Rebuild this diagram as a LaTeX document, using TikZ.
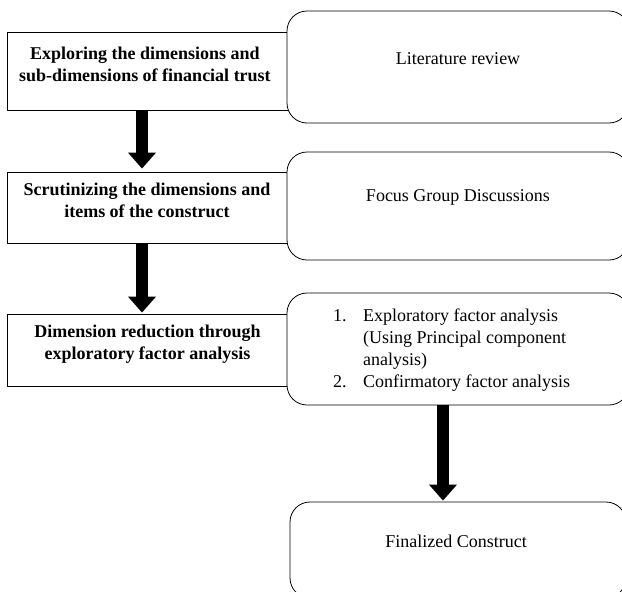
\documentclass[tikz,border=0pt]{standalone}
\usepackage{fontspec}
\setmainfont{Liberation Serif}
\usetikzlibrary{arrows.meta}
\newcommand\figfont{\fontsize{18}{22}\selectfont}
\begin{document}
	\begin{tikzpicture}[x=1pt,y=-1pt,line join=round,
		sqbox/.style={draw,line width=0.8pt,inner sep=0pt,minimum width=282pt},
		rndbox/.style={draw,fill=white,line width=0.8pt,rounded corners=20pt,inner sep=0pt,minimum width=342pt},
		bigarrow/.style={line width=12pt,-{Triangle[width=27pt,length=16pt]}},
		txt/.style={inner sep=0pt,align=center,font=\figfont},
		boldtxt/.style={txt,font=\figfont\bfseries}]
		\useasboundingbox (0,0) rectangle (622,592);
		\clip (0,0) rectangle (622,592);
		\node[sqbox,minimum height=78pt] (l1) at (148,71) {};
		\node[sqbox,minimum height=71pt] (l2) at (148,207.5) {};
		\node[sqbox,minimum height=72pt] (l3) at (148,350) {};
		\node[rndbox,minimum height=112pt] (r1) at (458,67) {};
		\node[rndbox,minimum height=108pt] (r2) at (458,206) {};
		\node[rndbox,minimum height=112pt] (r3) at (458,349) {};
		\node[rndbox,minimum width=336pt,minimum height=96pt] (r4) at (458,550) {};
		\draw[bigarrow] ([xshift=-6pt]l1.south) -- ([xshift=-6pt,yshift=3pt]l2.north);
		\draw[bigarrow] ([xshift=-6pt]l2.south) -- ([xshift=-6pt,yshift=1pt]l3.north);
		\draw[bigarrow] ([xshift=-15pt]r3.south) -- ([xshift=-15pt,yshift=1pt]r4.north);
		\node[boldtxt] (t1) at (145,64) {Exploring the dimensions and\\sub-dimensions of financial trust};
		\node[boldtxt] (t2) at (147,200) {Scrutinizing the dimensions and\\items of the construct};
		\node[boldtxt] (t3) at (147.5,344.5) {Dimension reduction through\\exploratory factor analysis};
		\node[txt] (s1) at (458,59) {Literature review};
		\node[txt] (s2) at (458,197) {Focus Group Discussions};
		\node[txt,anchor=west] (s3) at (333,350) {\begin{tabular}{@{}l@{}l@{}}
			\makebox[30pt][l]{1.}&Exploratory factor analysis\\
			&(Using Principal component\\
			&analysis)\\
			\makebox[30pt][l]{2.}&Confirmatory factor analysis
		\end{tabular}};
		\node[txt] (s4) at (456,541) {Finalized Construct};
	\end{tikzpicture}
\end{document}
